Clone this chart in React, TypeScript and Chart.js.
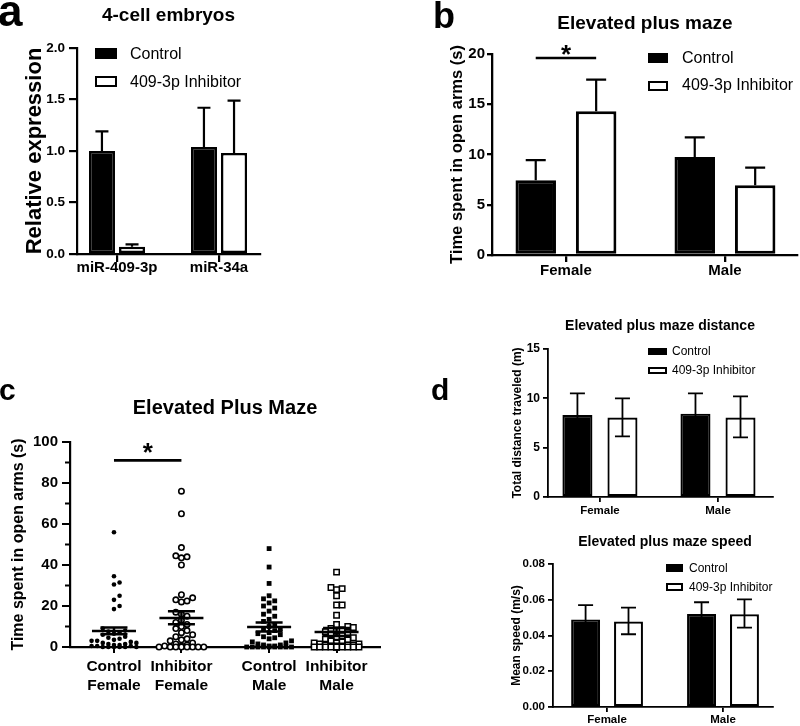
import React, { useEffect, useRef } from "react";
import { Chart, registerables } from "chart.js";

Chart.register(...registerables);

const FONT = "'Liberation Sans', Arial, Helvetica, sans-serif";
Chart.defaults.font.family = FONT;
Chart.defaults.color = "#000";

const seriesNames = ["Control", "409-3p Inhibitor"];

// ---------- Panel a ----------
const aCategories = ["miR-409-3p", "miR-34a"];
const aControl = [1.0, 1.04];
const aControlUpper = [1.19, 1.42];
const aInhibitor = [0.07, 0.98];
const aInhibitorUpper = [0.094, 1.49];
const aTicks = [0, 0.5, 1.0, 1.5, 2.0];

// ---------- Panel b ----------
const bCategories = ["Female", "Male"];
const bControl = [7.45, 9.75];
const bControlUpper = [9.45, 11.7];
const bInhibitor = [14.3, 6.95];
const bInhibitorUpper = [17.45, 8.7];
const bTicks = [0, 5, 10, 15, 20];
const bSigLevel = 19.6;

// ---------- Panel c ----------
const cGroups = [
  ["Control", "Female"],
  ["Inhibitor", "Female"],
  ["Control", "Male"],
  ["Inhibitor", "Male"],
];
const cControlFemale = [56, 34.5, 31.5, 30.5, 25, 23, 20, 18.5, 9, 8, 7.5, 7, 6.5, 6, 5, 4.5, 4, 3.5, 3, 3, 2.5, 2, 2, 1.5, 1.5, 1, 1, 0.5, 0.5, 0.5, 0, 0, 0, 0, 0, 0];
const cInhibitorFemale = [76, 65, 48.5, 44.5, 44, 43.5, 40, 25.5, 24, 23, 22.5, 22, 17, 16, 15, 13, 12, 11, 10, 9, 8, 7, 6, 5, 4, 3.5, 3, 2, 1.5, 1, 0.5, 0.5, 0, 0, 0, 0, 0, 0, 0, 0];
const cControlMale = [48, 39, 31, 25, 23.5, 22.5, 21.5, 20, 19, 17.5, 16, 15, 13.5, 12.5, 11, 10, 9, 8.5, 8, 7, 6.5, 6, 5, 4.5, 4, 3, 2.5, 2, 1.5, 1, 1, 0.5, 0.5, 0, 0, 0, 0, 0, 0, 0, 0, 0];
const cInhibitorMale = [36.5, 29, 28.5, 28, 25, 20.5, 20.5, 15.5, 11, 10, 9.5, 9, 8.5, 8, 7.5, 7, 6, 5.5, 5, 4.5, 4, 3.5, 3, 2.5, 2, 2, 1.5, 1.5, 1, 1, 1, 0.5, 0.5, 0.5, 0, 0, 0, 0, 0, 0, 0, 0, 0, 0, 0, 0];
const cMeans = [7.8, 14.2, 9.7, 7.3];
const cSemLow = [6.2, 11.1, 7.6, 5.4];
const cSemHigh = [9.5, 17.4, 11.9, 9.3];
const cTicks = [0, 20, 40, 60, 80, 100];
const cMinorTicks = [10, 30, 50, 70, 90];
const cSigLevel = 91;

// ---------- Panel d ----------
const dCategories = ["Female", "Male"];
const dDistControl = [8.3, 8.45];
const dDistControlLow = [6.1, 6.4];
const dDistControlHigh = [10.5, 10.5];
const dDistInhibitor = [8.05, 8.05];
const dDistInhibitorLow = [6.15, 6.05];
const dDistInhibitorHigh = [10.0, 10.2];
const dDistTicks = [0, 5, 10, 15];

const dSpeedControl = [0.049, 0.052];
const dSpeedControlLow = [0.041, 0.0455];
const dSpeedControlHigh = [0.057, 0.0586];
const dSpeedInhibitor = [0.0478, 0.0519];
const dSpeedInhibitorLow = [0.0407, 0.0444];
const dSpeedInhibitorHigh = [0.0556, 0.0602];
const dSpeedTicks = [0, 0.02, 0.04, 0.06, 0.08];

// ---------- layout constants (panel c group positions on x) ----------
const cPositions = [0, 1, 2.3, 3.3];

// ---------- plugins ----------
function errorBarsPlugin(series: any[], cap: number, lw: number) {
  return {
    id: "errorBars",
    afterDatasetsDraw(chart: any) {
      const ctx = chart.ctx;
      const y = chart.scales.y;
      ctx.save();
      ctx.strokeStyle = "#000";
      ctx.lineWidth = lw;
      series.forEach((ser: any, di: number) => {
        const meta = chart.getDatasetMeta(di);
        meta.data.forEach((el: any, i: number) => {
          const x = el.x;
          const yv = y.getPixelForValue(ser.values[i]);
          const yh = y.getPixelForValue(ser.high[i]);
          ctx.beginPath();
          ctx.moveTo(x, yv);
          ctx.lineTo(x, yh);
          ctx.moveTo(x - cap / 2, yh);
          ctx.lineTo(x + cap / 2, yh);
          if (ser.low) {
            const yl = y.getPixelForValue(ser.low[i]);
            ctx.moveTo(x, yv);
            ctx.lineTo(x, yl);
            ctx.moveTo(x - cap / 2, yl);
            ctx.lineTo(x + cap / 2, yl);
          }
          ctx.stroke();
        });
      });
      ctx.restore();
    },
  };
}

function drawSig(ctx: any, x1: number, x2: number, yp: number, lw: number, fs: number, starRise: number) {
  ctx.save();
  ctx.strokeStyle = "#000";
  ctx.lineWidth = lw;
  ctx.beginPath();
  ctx.moveTo(x1, yp);
  ctx.lineTo(x2, yp);
  ctx.stroke();
  ctx.fillStyle = "#000";
  ctx.font = `bold ${fs}px ${FONT}`;
  ctx.textAlign = "center";
  ctx.textBaseline = "alphabetic";
  ctx.fillText("*", (x1 + x2) / 2, yp - starRise + 0.58 * fs);
  ctx.restore();
}

function barSigPlugin(level: number, fs: number, starRise: number) {
  return {
    id: "barSig",
    afterDatasetsDraw(chart: any) {
      const b0 = chart.getDatasetMeta(0).data[0];
      const b1 = chart.getDatasetMeta(1).data[0];
      const yp = chart.scales.y.getPixelForValue(level);
      drawSig(chart.ctx, b0.x, b1.x, yp, 2.5, fs, starRise);
    },
  };
}

// ---------- bar chart builder ----------
function barConfig(s: any) {
  const fills = ["#000", "#fff"];
  return {
    type: "bar",
    data: {
      datasets: s.series.map((ser: any, k: number) => ({
        label: seriesNames[k],
        data: ser.values.map((v: number, i: number) => ({ x: i, y: v })),
        backgroundColor: fills[k],
        borderColor: "#000",
        borderWidth: s.borderW,
        borderSkipped: false,
        categoryPercentage: s.catPct,
        barPercentage: s.barPct,
      })),
    },
    options: {
      responsive: false,
      maintainAspectRatio: false,
      animation: false,
      events: [],
      layout: { padding: { left: s.pad.left, top: s.pad.top, right: s.pad.right, bottom: 0 } },
      plugins: { legend: { display: false }, tooltip: { enabled: false }, title: { display: false } },
      scales: {
        x: {
          type: "linear",
          min: s.xMin,
          max: s.xMax,
          bounds: "data",
          offset: false,
          border: { display: true, color: "#000", width: s.axisW },
          grid: { drawOnChartArea: false, drawTicks: true, tickLength: s.xTickLen, color: "#000", lineWidth: s.axisW, offset: false },
          afterBuildTicks: (sc: any) => {
            sc.ticks = s.categories.map((_: any, i: number) => ({ value: i }));
          },
          afterFit: (sc: any) => {
            sc.height = s.xHeight;
          },
          ticks: {
            autoSkip: false,
            maxRotation: 0,
            minRotation: 0,
            padding: s.xTickPad,
            color: "#000",
            font: { family: FONT, size: s.xTickFont, weight: "bold" },
            callback: (_v: any, i: number) => s.categories[i],
          },
        },
        y: {
          type: "linear",
          min: s.yMin,
          max: s.yMax,
          bounds: "data",
          border: { display: true, color: "#000", width: s.axisW },
          grid: { drawOnChartArea: false, drawTicks: true, tickLength: s.yTickLen, color: "#000", lineWidth: s.axisW },
          afterBuildTicks: (sc: any) => {
            sc.ticks = s.yTicks.map((v: number) => ({ value: v }));
          },
          afterFit: (sc: any) => {
            sc.width = s.yWidth;
          },
          ticks: {
            padding: s.yTickPad,
            color: "#000",
            font: { family: FONT, size: s.yTickFont, weight: "bold" },
            callback: (v: any) => Number(v).toFixed(s.yDecimals),
          },
          title: {
            display: true,
            text: s.yTitle,
            color: "#000",
            font: { family: FONT, size: s.yTitleFont, weight: "bold" },
            padding: { top: s.yTitlePad, bottom: 0 },
          },
        },
      },
    },
    plugins: [errorBarsPlugin(s.series, s.cap, s.errW), ...(s.sig ? [barSigPlugin(s.sig.level, s.sig.fs, s.sig.rise)] : [])],
  };
}

// ---------- beeswarm layout (deterministic) ----------
function swarm(values: number[], center: number, xPxPerUnit: number, yPxPerUnit: number, diam: number, maxHalf: number) {
  const order = values.map((_, i) => i).sort((a, b) => values[a] - values[b]);
  const placed: { x: number; y: number }[] = [];
  const out: any[] = new Array(values.length);
  const nSide = Math.floor(maxHalf / diam);
  const cands: number[] = [0];
  for (let k = 1; k <= nSide; k++) cands.push(k * diam, -k * diam);
  for (const i of order) {
    const yp = values[i] * yPxPerUnit;
    let best = 0;
    let bestScore = -Infinity;
    for (const off of cands) {
      let minD = Infinity;
      for (const p of placed) minD = Math.min(minD, Math.hypot(p.x - off, p.y - yp));
      if (minD >= diam) {
        best = off;
        break;
      }
      if (minD > bestScore) {
        bestScore = minD;
        best = off;
      }
    }
    placed.push({ x: best, y: yp });
    out[i] = { x: center + best / xPxPerUnit, y: values[i] };
  }
  return out;
}

function scatterConfig() {
  const xMin = -0.652;
  const xMax = 3.944;
  const xPx = 310 / (xMax - xMin);
  const yPx = 205 / 100;
  const groupsData = [cControlFemale, cInhibitorFemale, cControlMale, cInhibitorMale];
  const styles = [
    { pointStyle: "circle", radius: 2.3, bg: "#000", bw: 0 },
    { pointStyle: "circle", radius: 2.7, bg: "#fff", bw: 1.6 },
    { pointStyle: "rect", radius: 3.4, bg: "#000", bw: 0 },
    { pointStyle: "rect", radius: 3.8, bg: "#fff", bw: 1.5 },
  ];
  const datasets = groupsData.map((vals, g) => ({
    label: cGroups[g].join(" "),
    data: swarm(vals, cPositions[g], xPx, yPx, 5.6, 26),
    pointStyle: styles[g].pointStyle,
    pointRadius: styles[g].radius,
    pointBackgroundColor: styles[g].bg,
    pointBorderColor: "#000",
    pointBorderWidth: styles[g].bw,
    clip: false,
  }));

  const meanPlugin = {
    id: "meanSem",
    afterDatasetsDraw(chart: any) {
      const ctx = chart.ctx;
      const xs = chart.scales.x;
      const ys = chart.scales.y;
      ctx.save();
      ctx.strokeStyle = "#000";
      ctx.lineWidth = 2.5;
      cPositions.forEach((p, g) => {
        const cx = xs.getPixelForValue(p);
        const m = ys.getPixelForValue(cMeans[g]);
        const lo = ys.getPixelForValue(cSemLow[g]);
        const hi = ys.getPixelForValue(cSemHigh[g]);
        ctx.beginPath();
        ctx.moveTo(cx - 22, m);
        ctx.lineTo(cx + 22, m);
        ctx.moveTo(cx, lo);
        ctx.lineTo(cx, hi);
        ctx.moveTo(cx - 13.5, lo);
        ctx.lineTo(cx + 13.5, lo);
        ctx.moveTo(cx - 13.5, hi);
        ctx.lineTo(cx + 13.5, hi);
        ctx.stroke();
      });
      // minor ticks on y axis
      ctx.lineWidth = 2;
      const left = chart.chartArea.left;
      cMinorTicks.forEach((v) => {
        const yp = ys.getPixelForValue(v);
        ctx.beginPath();
        ctx.moveTo(left - 5, yp);
        ctx.lineTo(left, yp);
        ctx.stroke();
      });
      ctx.restore();
      drawSig(ctx, xs.getPixelForValue(cPositions[0]), xs.getPixelForValue(cPositions[1]), ys.getPixelForValue(cSigLevel), 2.8, 26, 15);
    },
  };

  return {
    type: "scatter",
    data: { datasets },
    options: {
      responsive: false,
      maintainAspectRatio: false,
      animation: false,
      events: [],
      layout: { padding: { left: 0, top: 62, right: 20, bottom: 0 } },
      plugins: { legend: { display: false }, tooltip: { enabled: false } },
      scales: {
        x: {
          type: "linear",
          min: xMin,
          max: xMax,
          bounds: "data",
          border: { display: true, color: "#000", width: 2.2 },
          grid: { drawOnChartArea: false, drawTicks: true, tickLength: 6, color: "#000", lineWidth: 2 },
          afterBuildTicks: (sc: any) => {
            sc.ticks = cPositions.map((v) => ({ value: v }));
          },
          afterFit: (sc: any) => {
            sc.height = 53;
          },
          ticks: {
            autoSkip: false,
            maxRotation: 0,
            minRotation: 0,
            padding: 4,
            color: "#000",
            font: { family: FONT, size: 15.5, weight: "bold", lineHeight: 1.22 },
            callback: (_v: any, i: number) => cGroups[i],
          },
        },
        y: {
          type: "linear",
          min: 0,
          max: 100,
          bounds: "data",
          border: { display: true, color: "#000", width: 2.2 },
          grid: { drawOnChartArea: false, drawTicks: true, tickLength: 8, color: "#000", lineWidth: 2 },
          afterBuildTicks: (sc: any) => {
            sc.ticks = cTicks.map((v) => ({ value: v }));
          },
          afterFit: (sc: any) => {
            sc.width = 70;
          },
          ticks: {
            padding: 4,
            color: "#000",
            font: { family: FONT, size: 15, weight: "bold" },
          },
          title: {
            display: true,
            text: "Time spent in open arms (s)",
            color: "#000",
            font: { family: FONT, size: 16, weight: "bold" },
            padding: { top: 8.7, bottom: 0 },
          },
        },
      },
    },
    plugins: [meanPlugin],
  };
}

// ---------- specs ----------
const specA = {
  categories: aCategories,
  series: [
    { values: aControl, high: aControlUpper },
    { values: aInhibitor, high: aInhibitorUpper },
  ],
  yMin: 0, yMax: 2, yTicks: aTicks, yDecimals: 1, yTitle: "Relative expression",
  xMin: -0.392, xMax: 1.402,
  pad: { left: 0, top: 48, right: 15 }, yWidth: 77, xHeight: 36,
  yTickFont: 13.5, xTickFont: 15, yTitleFont: 22, yTitlePad: 21.8,
  yTickLen: 8, xTickLen: 8, yTickPad: 4, xTickPad: -3,
  catPct: 0.59, barPct: 0.867, borderW: 2.5, axisW: 2.2, cap: 13, errW: 2.2,
};

const specB = {
  categories: bCategories,
  series: [
    { values: bControl, high: bControlUpper },
    { values: bInhibitor, high: bInhibitorUpper },
  ],
  yMin: 0, yMax: 20, yTicks: bTicks, yDecimals: 0, yTitle: "Time spent in open arms (s)",
  xMin: -0.465, xMax: 1.453,
  pad: { left: 0, top: 54, right: 3 }, yWidth: 92, xHeight: 35,
  yTickFont: 15, xTickFont: 15, yTitleFont: 16.5, yTitlePad: 47.1,
  yTickLen: 5, xTickLen: 7, yTickPad: 2, xTickPad: 0,
  catPct: 0.76, barPct: 0.67, borderW: 3, axisW: 2.3, cap: 20, errW: 2.2,
  sig: { level: bSigLevel, fs: 26, rise: 10 },
};

const specD1 = {
  categories: dCategories,
  series: [
    { values: dDistControl, low: dDistControlLow, high: dDistControlHigh },
    { values: dDistInhibitor, low: dDistInhibitorLow, high: dDistInhibitorHigh },
  ],
  yMin: 0, yMax: 15, yTicks: dDistTicks, yDecimals: 0, yTitle: "Total distance traveled (m)",
  xMin: -0.44, xMax: 1.466,
  pad: { left: 100, top: 39, right: 27 }, yWidth: 48, xHeight: 25,
  yTickFont: 12, xTickFont: 11.5, yTitleFont: 12, yTitlePad: 10.8,
  yTickLen: 5, xTickLen: 5, yTickPad: 3, xTickPad: 2,
  catPct: 0.763, barPct: 0.667, borderW: 2.2, axisW: 1.8, cap: 15, errW: 1.8,
};

const specD2 = {
  categories: dCategories,
  series: [
    { values: dSpeedControl, low: dSpeedControlLow, high: dSpeedControlHigh },
    { values: dSpeedInhibitor, low: dSpeedInhibitorLow, high: dSpeedInhibitorHigh },
  ],
  yMin: 0, yMax: 0.08, yTicks: dSpeedTicks, yDecimals: 2, yTitle: "Mean speed (m/s)",
  xMin: -0.466, xMax: 1.431,
  pad: { left: 100, top: 39, right: 27 }, yWidth: 53, xHeight: 19,
  yTickFont: 11.5, xTickFont: 11.5, yTitleFont: 12, yTitlePad: 9.8,
  yTickLen: 5, xTickLen: 5, yTickPad: 3, xTickPad: 1,
  catPct: 0.74, barPct: 0.674, borderW: 2.2, axisW: 1.8, cap: 15, errW: 1.8,
};

// ---------- components ----------
function ChartCanvas({ left, top, width, height, build }: any) {
  const ref = useRef<HTMLCanvasElement>(null);
  useEffect(() => {
    const chart = new Chart(ref.current as any, build());
    return () => chart.destroy();
  }, []);
  return (
    <canvas
      ref={ref}
      width={width}
      height={height}
      style={{ position: "absolute", left, top, width, height }}
    />
  );
}

function Txt({ x, top, size, bold, center, children }: any) {
  return (
    <div
      style={{
        position: "absolute",
        left: x,
        top,
        fontSize: size,
        lineHeight: `${size}px`,
        fontWeight: bold ? "bold" : "normal",
        fontFamily: FONT,
        whiteSpace: "nowrap",
        color: "#000",
        transform: center ? "translateX(-50%)" : undefined,
      }}
    >
      {children}
    </div>
  );
}

function Legend({ boxX, boxW, box1Y, box2Y, boxH, textX, text1C, text2C, fs, bw }: any) {
  return (
    <>
      <div style={{ position: "absolute", left: boxX, top: box1Y, width: boxW, height: boxH, background: "#000" }} />
      <div
        style={{
          position: "absolute",
          left: boxX,
          top: box2Y,
          width: boxW,
          height: boxH,
          background: "#fff",
          border: `${bw}px solid #000`,
          boxSizing: "border-box",
        }}
      />
      <Txt x={textX} top={text1C - 0.488 * fs} size={fs}>{seriesNames[0]}</Txt>
      <Txt x={textX} top={text2C - 0.488 * fs} size={fs}>{seriesNames[1]}</Txt>
    </>
  );
}

export default function App() {
  return (
    <div
      style={{
        position: "absolute",
        left: 0,
        top: 0,
        width: 800,
        height: 726,
        background: "#fff",
        overflow: "hidden",
      }}
    >
      <ChartCanvas left={0} top={0} width={275} height={290} build={() => barConfig(specA)} />
      <ChartCanvas left={400} top={0} width={400} height={290} build={() => barConfig(specB)} />
      <ChartCanvas left={0} top={380} width={400} height={320} build={() => scatterConfig()} />
      <ChartCanvas left={400} top={310} width={400} height={212} build={() => barConfig(specD1)} />
      <ChartCanvas left={400} top={525} width={400} height={201} build={() => barConfig(specD2)} />

      {/* panel letters */}
      <Txt x={-2} top={-11.5} size={44} bold>a</Txt>
      <Txt x={433} top={-2} size={36} bold>b</Txt>
      <Txt x={-1} top={374.5} size={30} bold>c</Txt>
      <Txt x={431} top={374.5} size={30} bold>d</Txt>

      {/* titles */}
      <Txt x={168.5} top={4.5} size={19} bold center>4-cell embryos</Txt>
      <Txt x={645} top={12.5} size={19} bold center>Elevated plus maze</Txt>
      <Txt x={225} top={397.4} size={20} bold center>Elevated Plus Maze</Txt>
      <Txt x={660} top={318} size={14} bold center>Elevated plus maze distance</Txt>
      <Txt x={665} top={534} size={14} bold center>Elevated plus maze speed</Txt>

      {/* legends */}
      <Legend boxX={95} boxW={22} box1Y={48} box2Y={76} boxH={11} textX={130} text1C={54} text2C={81.5} fs={16} bw={2.5} />
      <Legend boxX={648} boxW={20} box1Y={53} box2Y={81} boxH={10} textX={682} text1C={58} text2C={85} fs={16} bw={2.5} />
      <Legend boxX={648} boxW={19} box1Y={348} box2Y={367} boxH={7} textX={672} text1C={351} text2C={370} fs={12} bw={2} />
      <Legend boxX={666} boxW={17} box1Y={564} box2Y={583} boxH={8} textX={689} text1C={567.5} text2C={587} fs={12} bw={2} />
    </div>
  );
}
